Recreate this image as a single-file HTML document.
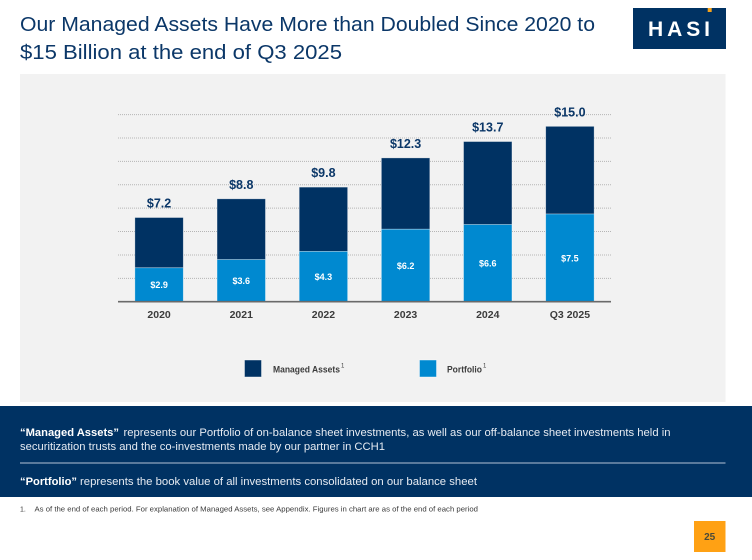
<!DOCTYPE html>
<html lang="en">
<head>
<meta charset="utf-8">
<title>Managed Assets Slide</title>
<style>
  html, body { margin: 0; padding: 0; background: #fff; }
  body { width: 752px; height: 560px; overflow: hidden; }
  svg { display: block; font-family: "Liberation Sans", sans-serif; }
</style>
</head>
<body>
<svg id="slide" width="752" height="560" viewBox="0 0 752 560" xmlns="http://www.w3.org/2000/svg">
  <rect x="0" y="0" width="752" height="560" fill="#ffffff"/>

  <g fill="#0b3768" font-size="20">
    <text x="20" y="31" textLength="575" lengthAdjust="spacingAndGlyphs">Our Managed Assets Have More than Doubled Since 2020 to</text>
    <text x="20" y="59" textLength="322" lengthAdjust="spacingAndGlyphs">$15 Billion at the end of Q3 2025</text>
  </g>

  <g>
    <rect x="633" y="8" width="93" height="41" fill="#003263"/>
    <rect x="707.7" y="8" width="4" height="4" fill="#f5a21b"/>
    <text x="648" y="36" font-size="21" font-weight="700" fill="#ffffff" textLength="62" lengthAdjust="spacing">HASI</text>
  </g>

  <rect x="20" y="74" width="705.5" height="328" fill="#f2f2f2"/>
  <g id="chart"></g>

  <g>
    <g>
      <rect x="244.5" y="360" width="17" height="17" fill="#003263" stroke="#ffffff" stroke-opacity="0.6" stroke-width="0.7"/>
      <text x="273" y="372.5" font-size="9.5" font-weight="700" fill="#3c3c3c" textLength="67" lengthAdjust="spacingAndGlyphs">Managed Assets</text>
      <text x="341" y="367.5" font-size="6" fill="#3c3c3c">1</text>
    </g>
    <g>
      <rect x="419.5" y="360" width="17" height="17" fill="#0089d0" stroke="#ffffff" stroke-opacity="0.6" stroke-width="0.7"/>
      <text x="447" y="372.5" font-size="9.5" font-weight="700" fill="#3c3c3c" textLength="35" lengthAdjust="spacingAndGlyphs">Portfolio</text>
      <text x="483" y="367.5" font-size="6" fill="#3c3c3c">1</text>
    </g>
  </g>

  <g>
    <rect x="0" y="406" width="752" height="91" fill="#003263"/>
    <text x="20" y="436" font-size="11" font-weight="700" fill="#ffffff" textLength="99" lengthAdjust="spacingAndGlyphs">“Managed Assets”</text>
    <text x="123.5" y="436" font-size="11" fill="#e6ebf2" textLength="547" lengthAdjust="spacingAndGlyphs">represents our Portfolio of on-balance sheet investments, as well as our off-balance sheet investments held in</text>
    <text x="20" y="450" font-size="11" fill="#e6ebf2" textLength="365" lengthAdjust="spacingAndGlyphs">securitization trusts and the co-investments made by our partner in CCH1</text>
    <rect x="20" y="462.5" width="705.5" height="1" fill="#b4c2d4"/>
    <text x="20" y="485" font-size="11" font-weight="700" fill="#ffffff" textLength="57" lengthAdjust="spacingAndGlyphs">“Portfolio”</text>
    <text x="80" y="485" font-size="11" fill="#e6ebf2" textLength="397" lengthAdjust="spacingAndGlyphs">represents the book value of all investments consolidated on our balance sheet</text>
  </g>

  <g font-size="7" fill="#3a3a3a">
    <text x="20" y="511.5">1.</text>
    <text x="34.5" y="511.5" textLength="443.5" lengthAdjust="spacingAndGlyphs">As of the end of each period. For explanation of Managed Assets, see Appendix. Figures in chart are as of the end of each period</text>
  </g>

  <g>
    <rect x="694" y="521" width="31.5" height="31" fill="#ffa114"/>
    <text x="709.7" y="540" font-size="10" font-weight="700" fill="#4a4a3a" text-anchor="middle">25</text>
  </g>
</svg>

<script>
const categories = ['2020', '2021', '2022', '2023', '2024', 'Q3 2025'];
const managedAssets = [7.2, 8.8, 9.8, 12.3, 13.7, 15.0];
const portfolio = [2.9, 3.6, 4.3, 6.2, 6.6, 7.5];
const gridTicks = [2, 4, 6, 8, 10, 12, 14, 16];

const NS = 'http://www.w3.org/2000/svg';
const chart = document.getElementById('chart');
const plot = { left: 118, right: 611, baseline: 301.7, unit: 11.69, barWidth: 48.4 };

function yScale(value) {
  return plot.baseline - value * plot.unit;
}
function xCenter(index) {
  const band = (plot.right - plot.left) / categories.length;
  return plot.left + band * (index + 0.5);
}
function make(tag, attrs, text) {
  const el = document.createElementNS(NS, tag);
  Object.keys(attrs).forEach(function (key) { el.setAttribute(key, attrs[key]); });
  if (text !== undefined) { el.textContent = text; }
  chart.appendChild(el);
  return el;
}

gridTicks.forEach(function (tick) {
  const line = make('line', {
    x1: plot.left, x2: plot.right, y1: yScale(tick), y2: yScale(tick),
    stroke: '#b5b5b5', 'stroke-width': 1, 'stroke-dasharray': '1 1'
  });
  
  
});

categories.forEach(function (category, i) {
  const cx = xCenter(i);
  const left = cx - plot.barWidth / 2;

  const darkBar = make('rect', {
    x: left, y: yScale(managedAssets[i]), width: plot.barWidth,
    height: yScale(portfolio[i]) - yScale(managedAssets[i]),
    fill: '#003263', stroke: '#ffffff', 'stroke-opacity': 0.45, 'stroke-width': 0.7
  });
  
  

  const lightBar = make('rect', {
    x: left, y: yScale(portfolio[i]), width: plot.barWidth,
    height: plot.baseline - yScale(portfolio[i]),
    fill: '#0089d0', stroke: '#ffffff', 'stroke-opacity': 0.45, 'stroke-width': 0.7
  });
  
  

  const totalLabel = make('text', {
    x: cx, y: yScale(managedAssets[i]) - 10, 'text-anchor': 'middle',
    'font-size': 12.5, 'font-weight': 700, fill: '#0b3768'
  }, '$' + managedAssets[i].toFixed(1));
  
  

  const portfolioLabel = make('text', {
    x: cx, y: (yScale(portfolio[i]) + plot.baseline) / 2 + 3.4, 'text-anchor': 'middle',
    'font-size': 9, 'font-weight': 700, fill: '#ffffff'
  }, '$' + portfolio[i].toFixed(1));
  
  

  const categoryLabel = make('text', {
    x: cx, y: 317.8, 'text-anchor': 'middle',
    'font-size': 10.5, 'font-weight': 700, fill: '#3c3c3c'
  }, category);
  
  
});

const axisLine = make('line', {
  x1: plot.left, x2: plot.right, y1: plot.baseline, y2: plot.baseline,
  stroke: '#6a6a6a', 'stroke-width': 1.6
});


</script>
</body>
</html>
